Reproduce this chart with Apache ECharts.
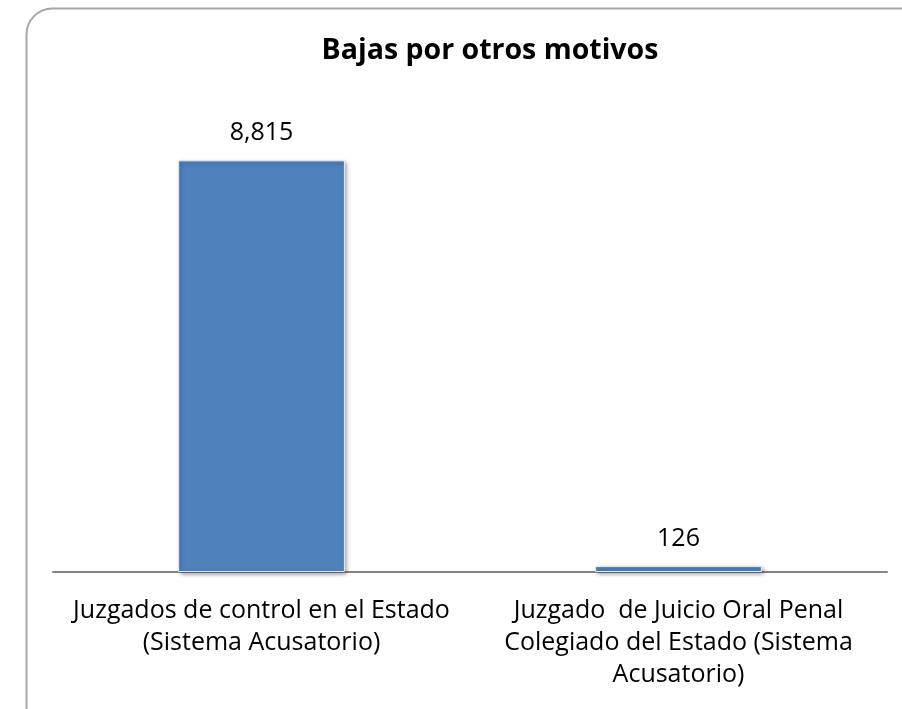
<!DOCTYPE html>
<html>
<head>
<meta charset="utf-8">
<script src="https://cdn.jsdelivr.net/npm/echarts@6/dist/echarts.min.js"></script>
<style>
  html, body { margin: 0; padding: 0; background: #fff; overflow: hidden; }
  #chart { width: 902px; height: 709px; }
</style>
</head>
<body>
<div id="chart"></div>
<script>
const categories = [
  "Juzgados de control en el Estado\n(Sistema Acusatorio)",
  "Juzgado  de Juicio Oral Penal\nColegiado del Estado (Sistema\nAcusatorio)"
];
const bajas = [8815, 126];

const chart = echarts.init(document.getElementById("chart"));
const font = "Open Sans";

chart.setOption({
  animation: false,
  title: {
    text: "Bajas por otros motivos",
    left: 485,
    top: 31,
    textAlign: "center",
    textStyle: { fontFamily: font, fontSize: 28.5, fontWeight: "bold", color: "#000" }
  },
  graphic: [{
    type: "rect",
    left: 24, top: 6,
    shape: { width: 920, height: 740, r: 26 },
    style: { fill: "none", stroke: "#a6a6a6", lineWidth: 2 },
    z: -1
  }],
  grid: { left: 53, right: 15, top: 105, bottom: 137 },
  xAxis: {
    type: "category",
    data: categories,
    axisTick: { show: false },
    axisLine: { lineStyle: { color: "#868686", width: 2 } },
    axisLabel: {
      interval: 0,
      margin: 23,
      color: "#000",
      fontFamily: font,
      fontSize: 25,
      lineHeight: 32
    }
  },
  yAxis: {
    type: "value",
    min: 0,
    max: 10000,
    show: false,
    splitLine: { show: false }
  },
  series: [{
    type: "bar",
    data: bajas,
    barWidth: "40%",
    itemStyle: {
      color: "#4f81bd",
      borderColor: "#e6ecf5",
      borderWidth: 1,
      shadowBlur: 4,
      shadowColor: "rgba(0,0,0,0.35)",
      shadowOffsetX: 2,
      shadowOffsetY: 2
    },
    label: {
      show: true,
      position: "top",
      distance: 15,
      color: "#000",
      fontFamily: font,
      fontSize: 25,
      formatter: (p) => p.value.toLocaleString("en-US")
    }
  }]
});
</script>
</body>
</html>
